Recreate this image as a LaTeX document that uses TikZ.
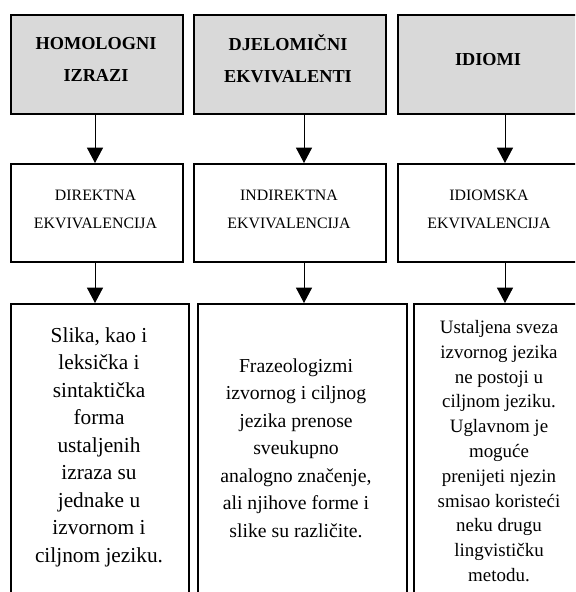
\documentclass[tikz,border=0pt]{standalone}
\usepackage{fontspec}
\setmainfont{Liberation Serif}
\usetikzlibrary{arrows.meta}
\begin{document}
\begin{tikzpicture}[x=0.75pt,y=-0.75pt,
  box/.style={draw=black,line width=1.5pt,inner sep=0pt,anchor=north west},
  headbox/.style={box,fill=gray!30},
  headtxt/.style={font=\fontsize{13.7pt}{24pt}\selectfont\bfseries,align=center,inner sep=0pt},
  midtxt/.style={font=\fontsize{11.9pt}{21pt}\selectfont,align=center,inner sep=0pt},
  lowa/.style={font=\fontsize{16pt}{20.6pt}\selectfont,align=center,inner sep=0pt},
  lowb/.style={font=\fontsize{14.8pt}{20.6pt}\selectfont,align=center,inner sep=0pt},
  lowc/.style={font=\fontsize{14.2pt}{18.6pt}\selectfont,align=center,inner sep=0pt},
  arr/.style={line width=0.75pt,-{Triangle[width=12pt,length=11.5pt]}}]
\useasboundingbox (0,0) rectangle (575,592);
\clip (0,0) rectangle (575,592);
% boxes
\node[headbox,minimum width=129pt,minimum height=74.25pt] (h1) at (10,14) {};
\node[headbox,minimum width=144pt,minimum height=74.25pt] (h2) at (193,14) {};
\node[headbox,minimum width=142.5pt,minimum height=74.25pt] (h3) at (397,14) {};
\node[box,minimum width=129pt,minimum height=73.5pt] (m1) at (10,163) {};
\node[box,minimum width=144pt,minimum height=73.5pt] (m2) at (193,163) {};
\node[box,minimum width=142.5pt,minimum height=73.5pt] (m3) at (397,163) {};
\node[box,minimum width=133.5pt,minimum height=232.5pt] (b1) at (10,303) {};
\node[box,minimum width=156.75pt,minimum height=232.5pt] (b2) at (197,303) {};
\node[box,minimum width=135pt,minimum height=232.5pt] (b3) at (413,303) {};
% texts
\node[headtxt] (th1) at (96,59) {HOMOLOGNI\\IZRAZI};
\node[headtxt] (th2) at (288,59) {DJELOMIČNI\\EKVIVALENTI};
\node[headtxt] (th3) at (488,60) {IDIOMI};
\node[midtxt] (tm1) at (95.5,209) {DIREKTNA\\EKVIVALENCIJA};
\node[midtxt] (tm2) at (289,209) {INDIREKTNA\\EKVIVALENCIJA};
\node[midtxt] (tm3) at (489,209) {IDIOMSKA\\EKVIVALENCIJA};
\node[lowa] (tb1) at (99,447) {Slika, kao i\\leksička i\\sintaktička\\forma\\ustaljenih\\izraza su\\jednake u\\izvornom i\\ciljnom jeziku.};
\node[lowb] (tb2) at (296,448) {Frazeologizmi\\izvornog i ciljnog\\jezika prenose\\sveukupno\\analogno značenje,\\ali njihove forme i\\slike su različite.};
\node[lowc] (tb3) at (499,451) {Ustaljena sveza\\izvornog jezika\\ne postoji u\\ciljnom jeziku.\\Uglavnom je\\moguće\\prenijeti njezin\\smisao koristeći\\neku drugu\\lingvističku\\metodu.};
% arrow columns
\coordinate (x1) at (95,0);
\coordinate (x2) at (304,0);
\coordinate (x3) at (505,0);
\draw[arr] (h1.south -| x1) -- (m1.north -| x1);
\draw[arr] (h2.south -| x2) -- (m2.north -| x2);
\draw[arr] (h3.south -| x3) -- (m3.north -| x3);
\draw[arr] (m1.south -| x1) -- (b1.north -| x1);
\draw[arr] (m2.south -| x2) -- (b2.north -| x2);
\draw[arr] (m3.south -| x3) -- (b3.north -| x3);
\end{tikzpicture}
\end{document}
